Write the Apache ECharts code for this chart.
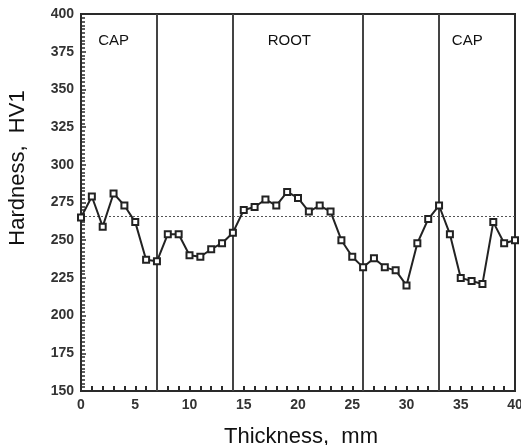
<!DOCTYPE html>
<html>
<head>
<meta charset="utf-8">
<script src="https://cdn.jsdelivr.net/npm/echarts@6/dist/echarts.min.js"></script>
<style>
  html, body { margin: 0; padding: 0; background: #fff; }
  #chart { width: 521px; height: 445px; }
</style>
</head>
<body>
<div id="chart"></div>
<script>
// Data
var thickness = [0,1,2,3,4,5,6,7,8,9,10,11,12,13,14,15,16,17,18,19,20,21,22,23,24,25,26,27,28,29,30,31,32,33,34,35,36,37,38,39,40];
var hardness = [265,279,259,281,273,262,237,236,254,254,240,239,244,248,255,270,272,277,273,282,278,269,273,269,250,239,232,238,232,230,220,248,264,273,254,225,223,221,262,248,250];
var meanHardness = 266;
var zoneBoundaries = [7, 14, 26, 33];
var zoneNames = ['CAP', 'ROOT', 'CAP'];
var zoneNameX = [3, 19.2, 35.6];
var zoneNameY = 382;
var xTicks = [0, 5, 10, 15, 20, 25, 30, 35, 40];
var yTicks = [150, 175, 200, 225, 250, 275, 300, 325, 350, 375, 400];
var xTitle = 'Thickness,  mm';
var yTitle = 'Hardness,  HV1';

var chart = echarts.init(document.getElementById('chart'), null, { renderer: 'canvas' });

var pts = thickness.map(function (t, i) { return [t, hardness[i]]; });

var tickFont = { fontFamily: 'Liberation Sans', fontWeight: 'bold', fontSize: 14, color: '#333' };

chart.setOption({
  animation: false,
  backgroundColor: '#fff',
  grid: { left: 81, right: 6, top: 14, bottom: 54, containLabel: false, outerBoundsMode: 'none',
          show: true, borderColor: '#2a2a2a', borderWidth: 2, backgroundColor: 'transparent' },
  graphic: [
    {
      type: 'text', x: 18, y: 168, rotation: Math.PI / 2,
      style: { text: yTitle, fontFamily: 'Liberation Sans', fontSize: 22, fill: '#111',
               textAlign: 'center', textVerticalAlign: 'middle' }
    }
  ],
  xAxis: {
    type: 'value', min: xTicks[0], max: xTicks[xTicks.length - 1], interval: 5,
    name: xTitle, nameLocation: 'middle', nameGap: 35,
    nameTextStyle: { fontFamily: 'Liberation Sans', fontSize: 22, color: '#111', padding: [0, 0, 0, 6] },
    axisLine: { show: true, lineStyle: { color: '#2a2a2a', width: 2 } },
    axisTick: { show: true, inside: true, length: 5, lineStyle: { color: '#2a2a2a', width: 2 } },
    minorTick: { show: true, splitNumber: 5, length: 5, lineStyle: { color: '#2a2a2a', width: 2 } },
    splitLine: { show: false },
    axisLabel: Object.assign({ margin: 7 }, tickFont)
  },
  yAxis: {
    type: 'value', min: yTicks[0], max: yTicks[yTicks.length - 1], interval: 25,
    axisLine: { show: true, lineStyle: { color: '#2a2a2a', width: 2 } },
    axisTick: { show: true, inside: true, length: 5, lineStyle: { color: '#2a2a2a', width: 1.5 } },
    minorTick: { show: true, splitNumber: 10, length: 4, lineStyle: { color: '#2a2a2a', width: 1.5 } },
    splitLine: { show: false },
    axisLabel: Object.assign({ margin: 7 }, tickFont)
  },
  series: [
    {
      type: 'line',
      data: pts,
      symbol: 'rect',
      symbolSize: 6,
      itemStyle: { color: '#fff', borderColor: '#222', borderWidth: 2 },
      lineStyle: { color: '#222', width: 2 },
      z: 5,
      markLine: {
        silent: true,
        symbol: 'none',
        label: { show: false },
        data: [
          { yAxis: meanHardness, lineStyle: { color: '#555', width: 1, type: [2, 2] } }
        ].concat(zoneBoundaries.map(function (b) {
          return { xAxis: b, lineStyle: { color: '#444', width: 2, type: 'solid' } };
        }))
      },
      markPoint: {
        silent: true,
        symbol: 'rect',
        symbolSize: 0,
        label: { show: true, position: 'inside', fontFamily: 'Liberation Sans', fontSize: 15, color: '#111' },
        data: zoneNames.map(function (n, i) {
          return { coord: [zoneNameX[i], zoneNameY], value: n, label: { formatter: n } };
        })
      }
    }
  ]
});
</script>
</body>
</html>
